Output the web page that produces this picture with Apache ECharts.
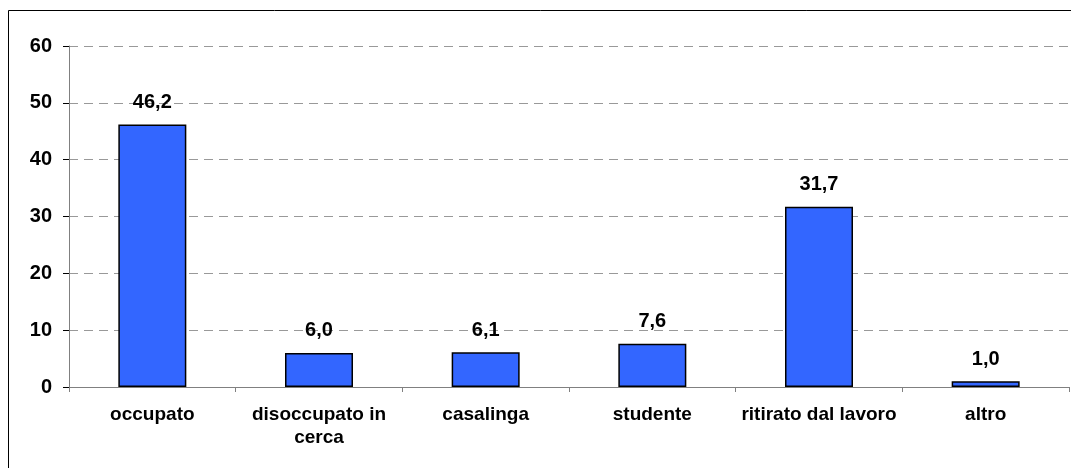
<!DOCTYPE html>
<html>
<head>
<meta charset="utf-8">
<script src="https://cdn.jsdelivr.net/npm/echarts@6/dist/echarts.min.js"></script>
<style>
  html, body { margin: 0; padding: 0; background: #fff; }
  #chart { width: 1071px; height: 468px; }
</style>
</head>
<body>
<div id="chart"></div>
<script>
const categories = ['occupato', 'disoccupato in\ncerca', 'casalinga', 'studente', 'ritirato dal lavoro', 'altro'];
const values = [46.2, 6.0, 6.1, 7.6, 31.7, 1.0];

const chart = echarts.init(document.getElementById('chart'));
chart.setOption({
  animation: false,
  backgroundColor: '#fff',
  textStyle: { fontFamily: 'Liberation Sans, Arial, sans-serif' },
  graphic: [
    {
      type: 'rect',
      shape: { x: 8.5, y: 10.5, width: 1100, height: 500 },
      style: { fill: 'none', stroke: '#000', lineWidth: 1 }
    }
  ],
  grid: { left: 69, right: 2, top: 46, bottom: 81, containLabel: false },
  xAxis: {
    type: 'category',
    data: categories,
    axisLine: { lineStyle: { color: '#808080', width: 1 } },
    axisTick: { show: true, alignWithLabel: false, length: 5, lineStyle: { color: '#808080' } },
    axisLabel: {
      color: '#000',
      fontWeight: 'bold',
      fontSize: 19,
      margin: 16,
      lineHeight: 23,
      interval: 0
    }
  },
  yAxis: {
    type: 'value',
    min: 0,
    max: 60,
    interval: 10,
    axisLine: { show: true, lineStyle: { color: '#808080', width: 1 } },
    axisTick: { show: true, length: 6, lineStyle: { color: '#000' } },
    axisLabel: { color: '#000', fontWeight: 'bold', fontSize: 20, margin: 17 },
    splitLine: { lineStyle: { color: '#999', type: [9, 6], width: 1 } }
  },
  series: [
    {
      type: 'bar',
      data: values,
      barWidth: 68,
      itemStyle: { color: '#3366FF', borderColor: '#000', borderWidth: 1.5 },
      label: {
        show: true,
        position: 'top',
        distance: 12,
        color: '#000',
        fontWeight: 'bold',
        fontSize: 20,
        formatter: p => p.value.toFixed(1).replace('.', ',')
      }
    }
  ]
});
</script>
</body>
</html>
